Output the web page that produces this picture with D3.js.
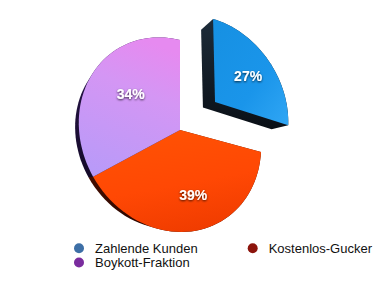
<!DOCTYPE html>
<html>
<head>
<meta charset="utf-8">
<script src="https://cdn.jsdelivr.net/npm/d3@7"></script>
<style>
  body { margin: 0; background: #fff; }
  svg { display: block; }
</style>
</head>
<body>
<svg id="chart"></svg>
<script>
// data
var categories = ["Zahlende Kunden", "Kostenlos-Gucker", "Boykott-Fraktion"];
var values = [27, 39, 34];
var labels = ["27%", "39%", "34%"];
var legendColors = ["#3d6fa6", "#8c140c", "#7a2c9e"];

var width = 390, height = 283;

var svg = d3.select("#chart")
    .attr("width", width)
    .attr("height", height);

// tilted disc -> screen (simple projective map, unit disc in u/v)
var proj = { cx: 180, cy: 130, a11: 89.9, a21: 12.4, a22: 95.6, p: 0.11, q: -0.0625 };
function project(u, v) {
    var w = 1 + proj.p * u + proj.q * v;
    return [proj.cx + proj.a11 * u / w, proj.cy + (proj.a21 * u + proj.a22 * v) / w];
}
// depth: back face shrinks toward a vanishing point at lower left
var vp = [20, 190], depth = 0.062;
function back(pt) {
    return [pt[0] + (vp[0] - pt[0]) * depth, pt[1] + (vp[1] - pt[1]) * depth];
}

var explode = [0.555, 0, 0];

var pie = d3.pie().sort(null).value(function(d) { return d; });
var arcs = pie(values);

function slicePoints(a, i) {
    var mid = (a.startAngle + a.endAngle) / 2;
    var ex = explode[i] * Math.sin(mid), ey = -explode[i] * Math.cos(mid);
    var pts = [project(ex, ey)];
    var n = 48;
    for (var k = 0; k <= n; k++) {
        var t = a.startAngle + (a.endAngle - a.startAngle) * k / n;
        pts.push(project(ex + Math.sin(t), ey - Math.cos(t)));
    }
    return pts;
}

var defs = svg.append("defs");

var fronts = [
    { id: "gBlue", stops: [["0%", "#1690e2"], ["60%", "#1a95ea"], ["100%", "#30a6f4"]], x1: "0%", y1: "0%", x2: "100%", y2: "100%" },
    { id: "gOrange", stops: [["0%", "#ff5204"], ["55%", "#ff4804"], ["100%", "#f03c00"]], x1: "30%", y1: "0%", x2: "60%", y2: "100%" },
    { id: "gPurple", stops: [["0%", "#e68af0"], ["35%", "#d496f4"], ["100%", "#b99af8"]], x1: "60%", y1: "0%", x2: "30%", y2: "100%" }
];
var sides = [
    { id: "sBlue", stops: [["0%", "#1d2c3a"], ["100%", "#0a0f16"]] },
    { id: "sOrange", stops: [["0%", "#5a1400"], ["100%", "#2a0600"]] },
    { id: "sPurple", stops: [["0%", "#2c1850"], ["100%", "#140a28"]] }
];

fronts.forEach(function(g) {
    var lg = defs.append("linearGradient").attr("id", g.id)
        .attr("x1", g.x1).attr("y1", g.y1).attr("x2", g.x2).attr("y2", g.y2);
    g.stops.forEach(function(s) {
        lg.append("stop").attr("offset", s[0]).attr("stop-color", s[1]);
    });
});
sides.forEach(function(g) {
    var lg = defs.append("linearGradient").attr("id", g.id)
        .attr("x1", "0%").attr("y1", "0%").attr("x2", "0%").attr("y2", "100%");
    g.stops.forEach(function(s) {
        lg.append("stop").attr("offset", s[0]).attr("stop-color", s[1]);
    });
});

var shadow = defs.append("filter").attr("id", "txtShadow")
    .attr("x", "-20%").attr("y", "-20%").attr("width", "140%").attr("height", "160%");
shadow.append("feDropShadow")
    .attr("dx", 0).attr("dy", 1).attr("stdDeviation", 0.8)
    .attr("flood-color", "#000").attr("flood-opacity", 0.75);

var line = d3.line().curve(d3.curveLinearClosed);

var shapes = arcs.map(function(a, i) {
    var f = slicePoints(a, i);
    var hull = d3.polygonHull(f.concat(f.map(back)));
    return { front: f, hull: hull, i: i, a: a };
});

// sides first, then the front faces
svg.append("g").selectAll("path")
    .data(shapes)
    .enter()
    .append("path")
    .attr("d", function(d) { return line(d.hull); })
    .attr("fill", function(d) { return "url(#" + sides[d.i].id + ")"; });

svg.append("g").selectAll("path")
    .data(shapes)
    .enter()
    .append("path")
    .attr("d", function(d) { return line(d.front); })
    .attr("fill", function(d) { return "url(#" + fronts[d.i].id + ")"; });

// percentage labels
var labelR = [0.6, 0.66, 0.6];
svg.append("g").selectAll("text")
    .data(arcs)
    .enter()
    .append("text")
    .attr("transform", function(a, i) {
        var mid = (a.startAngle + a.endAngle) / 2;
        var r = explode[i] + labelR[i];
        var pt = project(r * Math.sin(mid), -r * Math.cos(mid));
        return "translate(" + pt + ")";
    })
    .attr("text-anchor", "middle")
    .attr("dy", "0.36em")
    .attr("fill", "#fff")
    .attr("font-family", "'Liberation Sans', Arial, sans-serif")
    .attr("font-weight", "bold")
    .attr("font-size", 14)
    .attr("filter", "url(#txtShadow)")
    .text(function(a, i) { return labels[i]; });

// legend
var legendPos = [[79, 248.3], [252.7, 248.3], [79, 262.5]];
var legend = svg.append("g").selectAll("g")
    .data(categories)
    .enter()
    .append("g")
    .attr("transform", function(d, i) { return "translate(" + legendPos[i] + ")"; });

legend.append("circle")
    .attr("r", 5)
    .attr("fill", function(d, i) { return legendColors[i]; });

legend.append("text")
    .attr("x", 16)
    .attr("y", 4.5)
    .attr("fill", "#111")
    .attr("font-family", "'Liberation Sans', Arial, sans-serif")
    .attr("font-size", 13)
    .text(function(d) { return d; });
</script>
</body>
</html>
